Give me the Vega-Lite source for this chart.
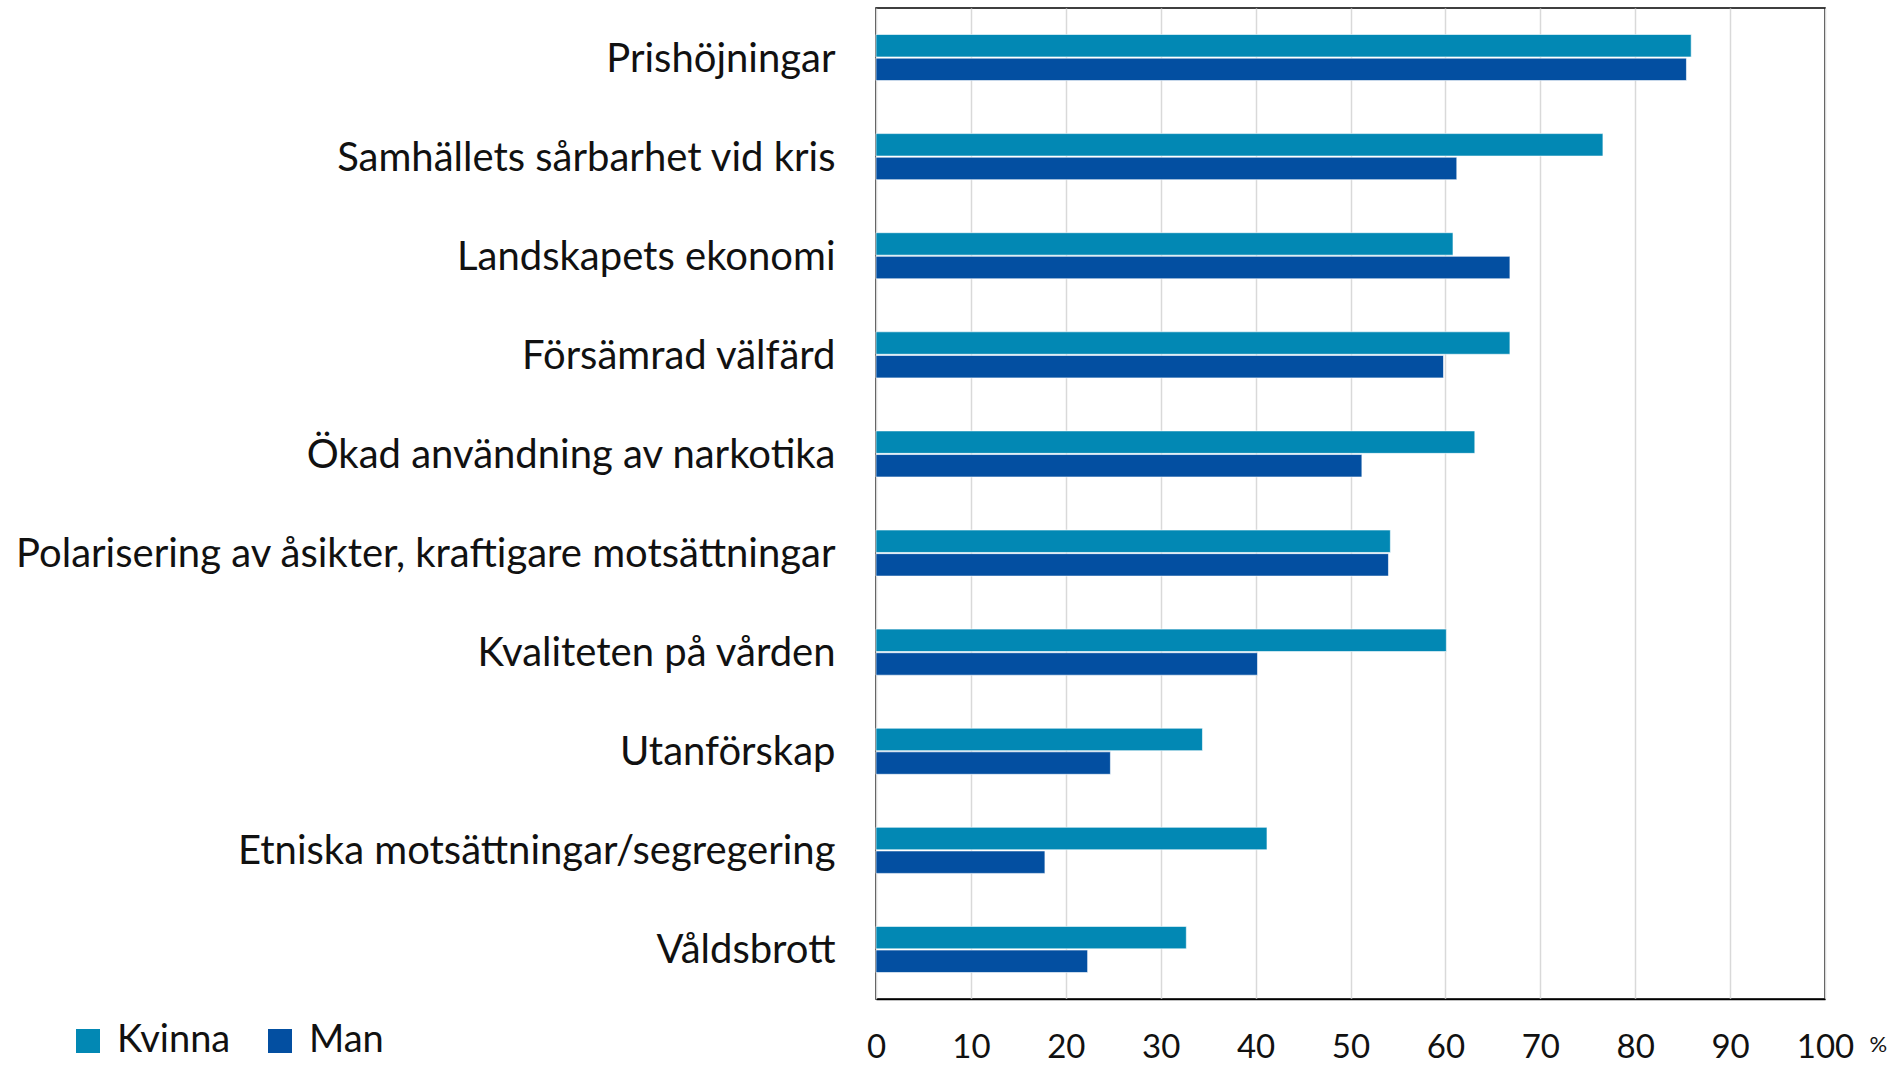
{
  "$schema": "https://vega.github.io/schema/vega-lite/v6.json",
  "width": 949,
  "height": 991,
  "autosize": "none",
  "padding": {"left": 876, "top": 8, "right": 68, "bottom": 66},
  "background": "white",
  "config": {
    "font": "Lato",
    "view": {"stroke": "#000000", "strokeWidth": 1.5}
  },
  "data": {
    "values": [
      {"kategori": "Prishöjningar", "kön": "Kvinna", "andel": 85.9},
      {"kategori": "Prishöjningar", "kön": "Man", "andel": 85.4},
      {"kategori": "Samhällets sårbarhet vid kris", "kön": "Kvinna", "andel": 76.6},
      {"kategori": "Samhällets sårbarhet vid kris", "kön": "Man", "andel": 61.2},
      {"kategori": "Landskapets ekonomi", "kön": "Kvinna", "andel": 60.8},
      {"kategori": "Landskapets ekonomi", "kön": "Man", "andel": 66.8},
      {"kategori": "Försämrad välfärd", "kön": "Kvinna", "andel": 66.8},
      {"kategori": "Försämrad välfärd", "kön": "Man", "andel": 59.8},
      {"kategori": "Ökad användning av narkotika", "kön": "Kvinna", "andel": 63.1},
      {"kategori": "Ökad användning av narkotika", "kön": "Man", "andel": 51.2},
      {"kategori": "Polarisering av åsikter, kraftigare motsättningar", "kön": "Kvinna", "andel": 54.2},
      {"kategori": "Polarisering av åsikter, kraftigare motsättningar", "kön": "Man", "andel": 54.0},
      {"kategori": "Kvaliteten på vården", "kön": "Kvinna", "andel": 60.1},
      {"kategori": "Kvaliteten på vården", "kön": "Man", "andel": 40.2},
      {"kategori": "Utanförskap", "kön": "Kvinna", "andel": 34.4},
      {"kategori": "Utanförskap", "kön": "Man", "andel": 24.7},
      {"kategori": "Etniska motsättningar/segregering", "kön": "Kvinna", "andel": 41.2},
      {"kategori": "Etniska motsättningar/segregering", "kön": "Man", "andel": 17.8},
      {"kategori": "Våldsbrott", "kön": "Kvinna", "andel": 32.7},
      {"kategori": "Våldsbrott", "kön": "Man", "andel": 22.3}
    ]
  },
  "mark": {"type": "bar", "stroke": "#ffffff", "strokeWidth": 1, "strokeOpacity": 0.6},
  "encoding": {
    "y": {
      "field": "kategori",
      "type": "nominal",
      "sort": null,
      "scale": {"paddingInner": 0.535, "paddingOuter": 0.2675},
      "axis": {
        "title": null,
        "ticks": false,
        "domain": false,
        "labelFontSize": 40,
        "labelColor": "#111111",
        "labelPadding": 41,
        "labelLimit": 1000,
        "labelOffset": 2
      }
    },
    "x": {
      "field": "andel",
      "type": "quantitative",
      "scale": {"domain": [0, 100], "nice": false},
      "axis": {
        "values": [0, 10, 20, 30, 40, 50, 60, 70, 80, 90, 100],
        "title": "%",
        "titleX": 993,
        "titleY": 57,
        "titleAlign": "left",
        "titleBaseline": "bottom",
        "titleFontSize": 22,
        "titleFontWeight": "normal",
        "titleColor": "#111111",
        "ticks": false,
        "domainColor": "#000000",
        "domainWidth": 1.5,
        "grid": true,
        "gridColor": "#D9D9D9",
        "gridWidth": 1.5,
        "labelFontSize": 33,
        "labelColor": "#111111",
        "labelPadding": 32,
        "labelFlush": false
      }
    },
    "yOffset": {
      "field": "kön",
      "type": "nominal",
      "sort": ["Kvinna", "Man"],
      "scale": {"paddingInner": 0.05}
    },
    "color": {
      "field": "kön",
      "type": "nominal",
      "scale": {"domain": ["Kvinna", "Man"], "range": ["#0288B4", "#034FA1"]},
      "legend": {
        "title": null,
        "orient": "none",
        "legendX": -807,
        "legendY": 1014,
        "direction": "horizontal",
        "columns": 2,
        "columnPadding": 30,
        "symbolType": "square",
        "symbolSize": 576,
        "symbolStrokeWidth": 0,
        "symbolOpacity": 1,
        "labelFontSize": 38,
        "labelColor": "#111111",
        "labelOffset": 10
      }
    }
  }
}
